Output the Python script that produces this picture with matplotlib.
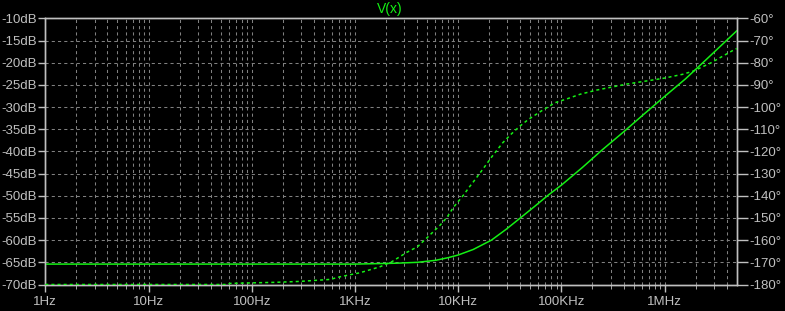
import matplotlib
matplotlib.use("Agg")
import matplotlib.pyplot as plt
import numpy as np
from matplotlib.ticker import FixedLocator, NullFormatter

# ---- data ----
mag_freq = [1, 1e3, 2.5e3, 4.03e3, 6.03e3, 8e3, 10e3, 14e3, 21e3, 29e3, 40e3,
            55e3, 75e3, 100e3, 160e3, 250e3, 400e3, 630e3, 1e6, 1.6e6, 2.5e6,
            3.5e6, 5e6]
mag_db = [-65.4, -65.4, -65.2, -65.0, -64.55, -63.95, -63.35, -62.1, -60.0,
          -57.6, -55.0, -52.4, -49.8, -47.6, -43.6, -39.6, -35.6, -31.6,
          -27.6, -23.6, -19.4, -16.2, -12.8]

ph_freq = [1, 55, 62, 175, 294, 575, 720, 1.12e3, 1.75e3, 2.28e3, 3.18e3,
           4.03e3, 5.05e3, 6.7e3, 7.8e3, 9.0e3, 11.3e3, 12.9e3, 14.1e3, 17.6e3,
           21.2e3, 26.9e3, 31.6e3, 39.1e3, 48.1e3, 64.7e3, 87.1e3, 113e3,
           152e3, 221e3, 432e3, 977e3, 1.5e6, 1.91e6, 2.77e6, 4.67e6, 5e6]
ph_deg = [-180, -180, -179.5, -179.0, -178.6, -177.7, -176.5, -174.7, -172.0,
          -169.7, -165.5, -163.0, -158.7, -153.2, -149.7, -145.2, -139.6,
          -135.9, -133.6, -127.6, -122.4, -116.2, -112.8, -108.8, -105.5,
          -101.6, -98.0, -96.3, -94.2, -92.3, -89.6, -87.0, -85.2, -83.7,
          -80.2, -74.25, -73.6]

x_ticks = [1, 10, 100, 1e3, 1e4, 1e5, 1e6]
x_labels = ["1Hz", "10Hz", "100Hz", "1KHz", "10KHz", "100KHz", "1MHz"]
db_ticks = list(range(-70, -9, 5))
db_labels = [f"{v}dB" for v in db_ticks]
deg_ticks = list(range(-180, -59, 10))
deg_labels = [f"{v}°" for v in deg_ticks]
title = "V(x)"

# ---- style ----
plt.rcParams['font.family'] = ['Liberation Sans', 'DejaVu Sans']
BG = "black"
FG = "#c0c0c0"
GRID = "#808080"
GREEN = "#14f014"

fig = plt.figure(figsize=(7.85, 3.11), dpi=100, facecolor=BG)
ax = fig.add_axes([0.0577, 0.0852, 0.8808, 0.8556], facecolor=BG)
ax2 = ax.twinx()

ax.set_xscale("log")
ax.set_xlim(1, 5e6)
ax.set_ylim(-70, -10)
ax2.set_ylim(-180, -60)

ax.plot(mag_freq, mag_db, color=GREEN, lw=1.1, zorder=5)
ax2.plot(ph_freq, ph_deg, color=GREEN, lw=1.1, linestyle=(0, (2, 2)), zorder=5)

ax.xaxis.set_major_locator(FixedLocator(x_ticks))
ax.set_xticklabels(x_labels)
minors = [m * 10 ** d for d in range(0, 7) for m in range(2, 10) if m * 10 ** d < 5e6]
ax.xaxis.set_minor_locator(FixedLocator(minors))
ax.xaxis.set_minor_formatter(NullFormatter())

ax.set_yticks(db_ticks)
ax.set_yticklabels(db_labels)
ax2.set_yticks(deg_ticks)
ax2.set_yticklabels(deg_labels)

ax.grid(True, which="both", axis="x", color=GRID, lw=0.75, linestyle=(0, (3, 3)))
ax.grid(True, which="major", axis="y", color=GRID, lw=0.75, linestyle=(0, (3, 3)))

for a in (ax, ax2):
    for s in a.spines.values():
        s.set_color(FG)
        s.set_linewidth(1.0)
    a.tick_params(colors=FG, labelsize=9.5, width=1.0)
ax.tick_params(axis="y", length=5, pad=1)
ax2.tick_params(axis="y", length=8, pad=1)
ax.tick_params(axis="x", which="major", length=5, pad=3)
ax.tick_params(axis="x", which="minor", length=3, color=FG)

fig.text(0.497, 0.972, title, color=GREEN, fontsize=10, ha="center", va="center")

fig.savefig("out.png", dpi=100, facecolor=BG)
